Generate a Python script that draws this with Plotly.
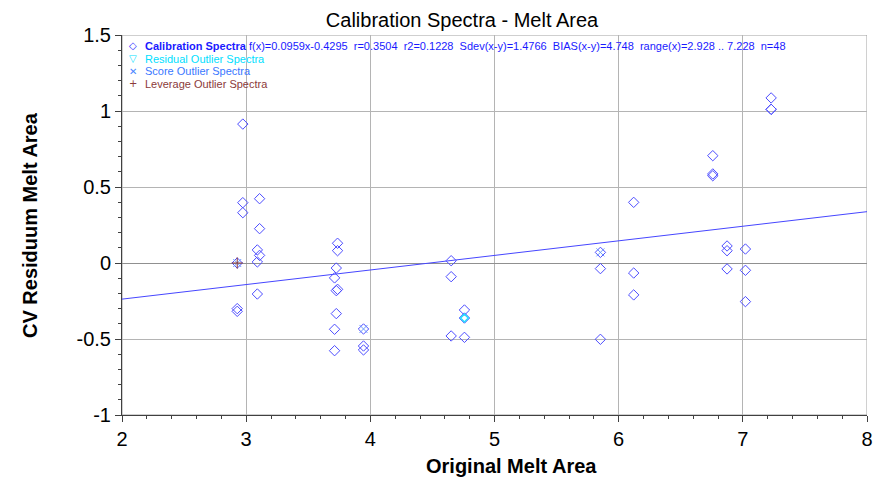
import plotly.graph_objects as go

# ---- data ----
cal_x = [2.928, 2.928, 2.928,
         2.973, 2.973, 2.973,
         3.090, 3.090, 3.090, 3.108, 3.108, 3.108,
         3.736, 3.736, 3.736, 3.726, 3.726, 3.726, 3.712, 3.712, 3.712,
         3.945, 3.945, 3.945,
         4.651, 4.651, 4.651,
         4.758, 4.758, 4.758,
         5.853, 5.853, 5.853,
         6.121, 6.121, 6.121,
         6.758, 6.758, 6.758,
         6.873, 6.873, 6.873,
         7.021, 7.021, 7.021,
         7.228, 7.228, 7.228]
cal_y = [0.000, -0.300, -0.318,
         0.914, 0.397, 0.331,
         0.086, 0.007, -0.204, 0.423, 0.226, 0.050,
         0.130, 0.081, -0.173, -0.033, -0.182, -0.333, -0.098, -0.436, -0.577,
         -0.434, -0.546, -0.572,
         0.015, -0.090, -0.480,
         -0.309, -0.362, -0.489,
         0.070, -0.037, -0.502,
         0.399, -0.066, -0.210,
         0.706, 0.586, 0.574,
         0.112, 0.081, -0.039,
         0.092, -0.048, -0.254,
         1.086, 1.011, 1.011]

residual_x = [4.758]
residual_y = [-0.362]
score_x = [2.928, 3.945, 5.853]
score_y = [0.000, -0.434, 0.070]
leverage_x = [2.928]
leverage_y = [0.000]

fit_slope = 0.0959
fit_intercept = -0.4295
fit_x = [2, 8]

x_ticks = [2, 3, 4, 5, 6, 7, 8]
y_ticks = [-1, -0.5, 0, 0.5, 1, 1.5]
y_tick_labels = ["-1", "-0.5", "0", "0.5", "1", "1.5"]

legend_rows = [
    ("\u25c7", "#3030ff",
     "<b>Calibration Spectra</b> f(x)=0.0959x-0.4295\u00a0\u00a0r=0.3504\u00a0\u00a0r2=0.1228\u00a0\u00a0"
     "Sdev(x-y)=1.4766\u00a0\u00a0BIAS(x-y)=4.748\u00a0\u00a0range(x)=2.928 .. 7.228\u00a0\u00a0n=48",
     "#1a1aff"),
    ("\u25bd", "#00e0ff", "Residual Outlier Spectra", "#00e0ff"),
    ("\u2715", "#4a86ff", "Score Outlier Spectra", "#3a78ff"),
    ("+", "#8b3a3a", "Leverage Outlier Spectra", "#8b3a3a"),
]

FONT = "Liberation Sans, Arial, sans-serif"

# page pixels (body margin removed below)
W, H = 875, 481
L, R, T, B = 122, 867, 35, 415
PW, PH = R - L, B - T

def px_x(p):
    return (p - L) / PW

def px_y(p):
    return 1 - (p - T) / PH

fig = go.Figure()

fit_y = [fit_slope * v + fit_intercept for v in fit_x]
fig.add_trace(go.Scatter(x=fit_x, y=fit_y, mode="lines",
                         line=dict(color="#4646ff", width=1), hoverinfo="skip"))

fig.add_trace(go.Scatter(x=cal_x, y=cal_y, mode="markers",
                         marker=dict(symbol="diamond-open", size=8, color="#4c4cff",
                                     line=dict(width=1))))
fig.add_trace(go.Scatter(x=residual_x, y=residual_y, mode="markers",
                         marker=dict(symbol="diamond-open", size=6, color="#22ddff",
                                     line=dict(width=1.5))))
fig.add_trace(go.Scatter(x=score_x, y=score_y, mode="markers",
                         marker=dict(symbol="x-thin-open", size=8, color="#6a9cff",
                                     line=dict(width=1))))
fig.add_trace(go.Scatter(x=leverage_x, y=leverage_y, mode="markers",
                         marker=dict(symbol="cross-thin-open", size=8, color="#8b3a3a",
                                     line=dict(width=1))))

annotations = []
row_y0 = 46
row_step = 12.6
for i, (sym, symcol, txt, txtcol) in enumerate(legend_rows):
    yy = px_y(row_y0 + i * row_step)
    annotations.append(dict(xref="paper", yref="paper", x=px_x(133), y=yy,
                            text=sym, showarrow=False, xanchor="center", yanchor="middle",
                            font=dict(family="DejaVu Sans, sans-serif", size=10, color=symcol)))
    annotations.append(dict(xref="paper", yref="paper", x=px_x(143), y=yy,
                            text=txt, showarrow=False, xanchor="left", yanchor="middle",
                            font=dict(family=FONT, size=11, color=txtcol)))

# axis titles
annotations.append(dict(xref="paper", yref="paper", x=px_x(511), y=px_y(466),
                        text="<b>Original Melt Area</b>", showarrow=False,
                        xanchor="center", yanchor="middle",
                        font=dict(family=FONT, size=20, color="black")))
annotations.append(dict(xref="paper", yref="paper", x=px_x(30), y=px_y(225),
                        text="<b>CV Residuum Melt Area</b>", showarrow=False, textangle=-90,
                        xanchor="center", yanchor="middle",
                        font=dict(family=FONT, size=20, color="black")))

fig.update_layout(
    width=W, height=H,
    margin=dict(l=L, r=W - R, t=T, b=H - B),
    paper_bgcolor="white", plot_bgcolor="white",
    showlegend=False,
    title=dict(text="Calibration Spectra - Melt Area", x=462 / W, xanchor="center",
               y=1 - 20 / H, yanchor="middle",
               font=dict(family=FONT, size=20, color="black")),
    annotations=annotations,
    shapes=[dict(type="rect", xref="x", yref="y", x0=2, y0=-1, x1=8, y1=1.5,
                 line=dict(color="#a0a0a0", width=1), layer="below")],
)

fig.update_xaxes(range=[2, 8], tickvals=x_ticks, ticktext=[str(v) for v in x_ticks],
                 automargin=False, ticklabeloverflow="allow",
                 showgrid=True, gridcolor="#b4b4b4", gridwidth=1, zeroline=False,
                 showline=True, linecolor="#404040", linewidth=1,
                 ticks="outside", ticklen=6, tickcolor="#404040",
                 minor=dict(dtick=0.2, ticks="outside", ticklen=3, tickcolor="#404040", showgrid=False),
                 tickfont=dict(family=FONT, size=20, color="black"))
fig.update_yaxes(range=[-1, 1.5], tickvals=y_ticks, ticktext=y_tick_labels,
                 automargin=False,
                 showgrid=True, gridcolor="#b4b4b4", gridwidth=1,
                 zeroline=True, zerolinecolor="#909090", zerolinewidth=1,
                 showline=True, linecolor="#404040", linewidth=1,
                 ticks="outside", ticklen=6, tickcolor="#404040",
                 minor=dict(dtick=0.1, ticks="outside", ticklen=3, tickcolor="#404040", showgrid=False),
                 tickfont=dict(family=FONT, size=20, color="black"))

fig.write_html("out.html",
               config={"displayModeBar": False},
               post_script="document.body.style.margin='0px';document.body.style.overflow='hidden';")
